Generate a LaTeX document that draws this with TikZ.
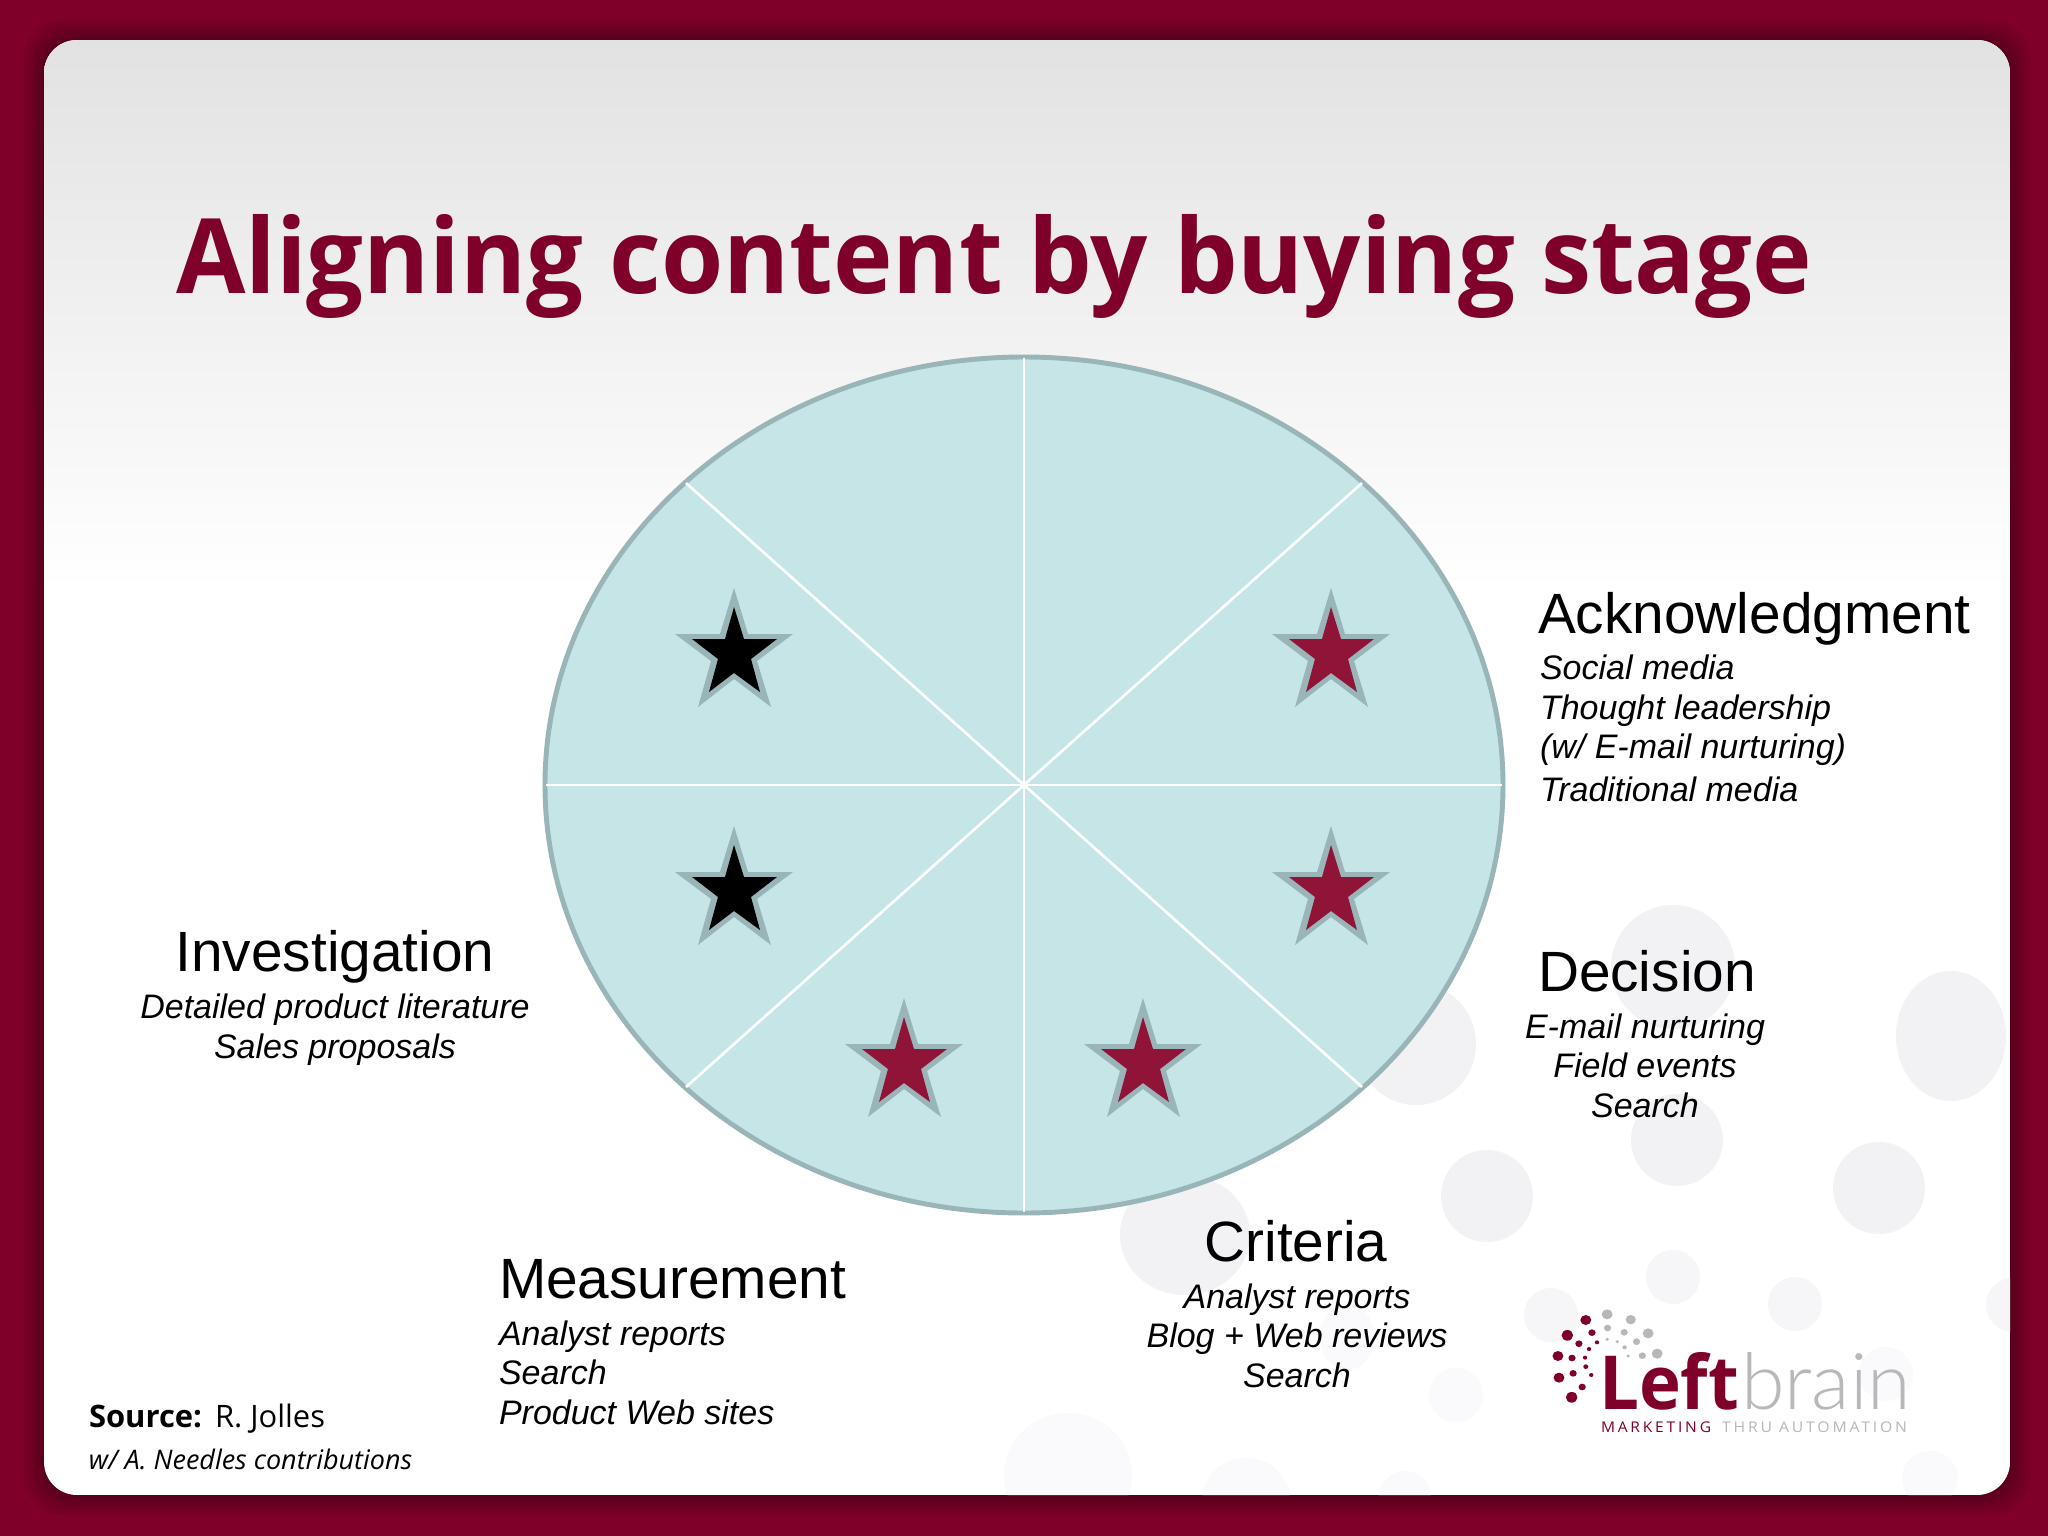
\documentclass[tikz,border=0pt]{standalone}
\usepackage{fontspec}
\usepackage{graphicx}
\setmainfont{Liberation Sans}
\newfontfamily\titlef{Open Sans}
\newfontfamily\brainf{Lato Light}
\newfontfamily\tagf[LetterSpace=18]{Open Sans}
\definecolor{wine}{HTML}{7F0029}
\definecolor{starred}{HTML}{8F1438}
\definecolor{disc}{HTML}{C5E5E7}
\definecolor{discedge}{HTML}{99B5B8}
\definecolor{bubble}{HTML}{F2F1F3}
\definecolor{bubblelow}{HTML}{F6F5F7}
\definecolor{bubblefaint}{HTML}{FAF9FB}
\definecolor{logogrey}{HTML}{B8B8BA}
\definecolor{topgrey}{HTML}{E3E2E3}
\tikzset{
  x=0.01cm,y=-0.01cm,
  spoke/.style={draw=white,line width=0.75pt},
  plain/.style={inner sep=0pt,outer sep=0pt},
  heading/.style={plain,font=\fontsize{16.15}{18}\selectfont},
  items/.style={plain,font=\fontsize{9.67}{11.23}\selectfont\itshape},
  pics/mystar/.style={code={
    \fill[discedge] (0,-62)--(14,-16)--(59,-16)--(23,11)--(37,57)--(0,29)--(-36,57)--(-23,11)--(-59,-16)--(-14,-16)--cycle;
    \fill[#1] (0,-43)--(10,-11)--(43,-11)--(17,9)--(26,42)--(0,23)--(-25,42)--(-16,9)--(-42,-11)--(-9,-11)--cycle;
  }}
}
\begin{document}
\begin{tikzpicture}
\useasboundingbox (0,0) rectangle (2048,1536);
\fill[wine] (0,0) rectangle (2048,1536);
% card shadow
\foreach \g in {20,16,12,9,6,3}{
  \fill[black,opacity=0.05,rounded corners=11pt] (44-\g,40-\g) rectangle (2010+\g,1495+\g);
}
\begin{scope}
\clip[rounded corners=9.4pt] (44,40) rectangle (2010,1495);
\fill[white] (44,40) rectangle (2010,1495);
\shade[top color=topgrey,bottom color=white] (44,40) rectangle (2010,590);
\foreach \cx/\cy/\rx/\ry in {1416/1044/60/61,1673/967/62/62,1951/1036/55/65,1487/1196/46/46,1677/1140/46/46,1879/1188/46/46,1185/1235/65/60}{
  \fill[bubble] (\cx,\cy) ellipse [x radius=\rx, y radius=\ry];
}
\foreach \cx/\cy/\rx/\ry in {1673/1277/27/27,1795/1304/27/27,1551/1315/27/27,2013/1305/27/27}{
  \fill[bubblelow] (\cx,\cy) ellipse [x radius=\rx, y radius=\ry];
}
\foreach \cx/\cy/\rx/\ry in {1886/1374/27/27,1456/1395/27/27,1347/1337/27/33,1930/1478/28/27,1068/1475/64/62,1246/1500/44/42,1405/1497/26/26}{
  \fill[bubblefaint] (\cx,\cy) ellipse [x radius=\rx, y radius=\ry];
}
\end{scope}
% disc
\coordinate (hub) at (1024,785);
\fill[disc,draw=discedge,line width=1.4pt] (hub) ellipse [x radius=479, y radius=428];
\draw[spoke] (1024,358) -- (1024,1212);
\draw[spoke] (546,785) -- (1502,785);
\draw[spoke] (686,483) -- (1362,1087);
\draw[spoke] (1362,483) -- (686,1087);
% stars
\path (734,650) pic {mystar=black};
\path (734,888) pic {mystar=black};
\path (1331,650) pic {mystar=starred};
\path (1331,888) pic {mystar=starred};
\path (904,1060) pic {mystar=starred};
\path (1143,1060) pic {mystar=starred};
% title
\node[plain,anchor=base west,text=wine] (title) at (176,293) {\resizebox{16.35cm}{0.79cm}{\titlef\bfseries Aligning content by buying stage}};
% labels
\node[heading,anchor=base west] (ack) at (1538,633) {Acknowledgment};
\node[items,anchor=base west,align=left] (ackitems) at (1540,801) {Social media\\Thought leadership\\(w/ E-mail nurturing)\\[0.8pt]Traditional media};
\node[heading,anchor=base west] (dec) at (1538,991) {Decision};
\node[items,anchor=base,align=center] (decitems) at (1645,1117) {E-mail nurturing\\Field events\\Search};
\node[heading,anchor=base] (cri) at (1296,1261) {Criteria};
\node[items,anchor=base,align=center] (criitems) at (1297,1387) {Analyst reports\\Blog + Web reviews\\Search};
\node[heading,anchor=base west] (mea) at (499,1298) {Measurement};
\node[items,anchor=base west,align=left] (meaitems) at (499,1424) {Analyst reports\\Search\\Product Web sites};
\node[heading,anchor=base] (inv) at (335,971) {Investigation};
\node[items,anchor=base,align=center] (invitems) at (335,1058) {Detailed product literature\\Sales proposals};
% source
\node[plain,anchor=base west] (src) at (89,1427) {\resizebox{1.13cm}{!}{\titlef\bfseries Source:}};
\node[plain,anchor=base west] (srcname) at (215,1427) {\resizebox{1.10cm}{!}{\titlef R. Jolles}};
\node[plain,anchor=base west] (srcextra) at (89,1469) {\resizebox{3.23cm}{!}{\titlef\itshape w/ A. Needles contributions}};
% logo
\begin{scope}[shift={(1480,1250)},xscale=0.3623,yscale=0.3333]
\foreach \dx/\dy/\dr in {292/210/15,241/256/16,309/248/10,273/281/10,323/277/6,301/297/6,215/318/15,254/324/10,290/323/6,292/350/7,307/375/6,257/370/10,218/383/15,282/411/10,253/442/16}{
  \fill[wine] (\dx,\dy) circle (\dr);
}
\foreach \dx/\dy/\dr in {351/193/15,416/209/14,352/234/10,398/247/10,464/250/15,351/268/5,379/275/5,432/275/10,399/292/6,489/311/15,448/317/10,409/318/5}{
  \fill[logogrey] (\dx,\dy) circle (\dr);
}
\end{scope}
\node[plain,anchor=base west,text=wine] (left) at (1599,1409) {\resizebox{1.40cm}{0.57cm}{\titlef\bfseries Left}};
\node[plain,anchor=base west,text=logogrey] (brain) at (1741,1409) {\resizebox{1.70cm}{0.57cm}{\brainf brain}};
\node[plain,anchor=base west,text=wine] (tag1) at (1601,1432) {\resizebox{1.10cm}{0.107cm}{\tagf MARKETING}};
\node[plain,anchor=base west,text=logogrey] (tag2) at (1722,1432) {\resizebox{1.85cm}{0.107cm}{\tagf THRU AUTOMATION}};
\end{tikzpicture}
\end{document}
